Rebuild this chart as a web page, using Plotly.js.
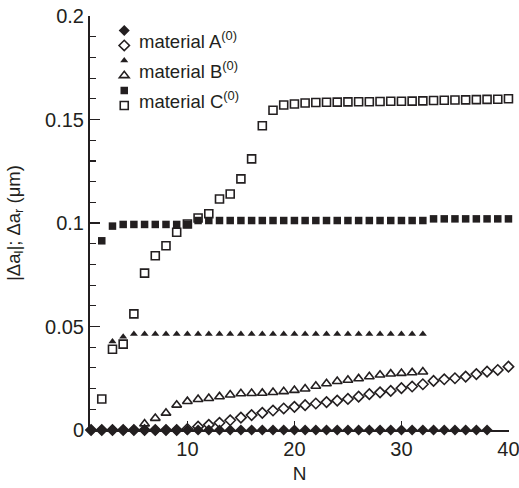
<!DOCTYPE html>
<html>
<head>
<meta charset="utf-8">
<script src="https://cdn.plot.ly/plotly-3.0.1.min.js"></script>
<style>html,body{margin:0;padding:0;background:#fff;}#chart{width:519px;height:488px;}</style>
</head>
<body>
<div id="chart"></div>
<script>
// ---- data ----
const nA_filled = [1,2,3,4,5,6,7,8,9,10,11,12,13,14,15,16,17,18,19,20,21,22,23,24,25,26,27,28,29,30,31,32,33,34,35,36,37,38];
const vA_filled = [0,0,0,0,0,0,0,0,0,0,0,0,0,0,0,0,0,0,0,0,0,0,0,0,0,0,0,0,0,0,0,0,0,0,0,0,0,0];

const nA_open = [1,2,3,4,5,6,7,8,9,10,11,12,13,14,15,16,17,18,19,20,21,22,23,24,25,26,27,28,29,30,31,32,33,34,35,36,37,38,39,40];
const vA_open = [0,0,0,0,0,0,0,0,0,0.0005,0.0016,0.0025,0.0035,0.0047,0.006,0.0072,0.0083,0.0094,0.0104,0.0112,0.012,0.0128,0.0135,0.0142,0.015,0.0161,0.0173,0.0182,0.0189,0.0202,0.021,0.0221,0.0237,0.0245,0.025,0.0258,0.027,0.0282,0.029,0.0306];

const nB_filled = [3,4,5,6,7,8,9,10,11,12,13,14,15,16,17,18,19,20,21,22,23,24,25,26,27,28,29,30,31,32];
const vB_filled = [0.0427,0.045,0.0464,0.0464,0.0464,0.0464,0.0464,0.0464,0.0464,0.0464,0.0464,0.0464,0.0464,0.0464,0.0464,0.0464,0.0464,0.0464,0.0464,0.0464,0.0464,0.0464,0.0464,0.0464,0.0464,0.0464,0.0464,0.0464,0.0464,0.0464];

const nB_open = [6,7,8,9,10,11,12,13,14,15,16,17,18,19,20,21,22,23,24,25,26,27,28,29,30,31,32];
const vB_open = [0.003,0.0057,0.0082,0.0121,0.0138,0.0148,0.0153,0.0161,0.017,0.0176,0.0177,0.0178,0.0182,0.0186,0.0192,0.0199,0.0212,0.0224,0.0235,0.0241,0.0248,0.0258,0.0266,0.0271,0.0274,0.0277,0.0281];

const nC_filled = [2,3,4,5,6,7,8,9,10,11,12,13,14,15,16,17,18,19,20,21,22,23,24,25,26,27,28,29,30,31,32,33,34,35,36,37,38,39,40];
const vC_filled = [0.0914,0.0985,0.0993,0.0993,0.0993,0.0993,0.0993,0.0993,0.0993,0.1012,0.1012,0.1012,0.1012,0.1012,0.1012,0.1012,0.1012,0.1012,0.1012,0.1012,0.1012,0.1012,0.1012,0.1012,0.1012,0.1012,0.1012,0.1012,0.1012,0.1012,0.1012,0.102,0.102,0.102,0.102,0.102,0.102,0.102,0.102];

const nC_open = [2,3,4,5,6,7,8,9,10,11,12,13,14,15,16,17,18,19,20,21,22,23,24,25,26,27,28,29,30,31,32,33,34,35,36,37,38,39,40];
const vC_open = [0.015,0.039,0.0415,0.0561,0.0758,0.0842,0.089,0.0955,0.0995,0.1024,0.1045,0.1116,0.114,0.1213,0.131,0.147,0.1545,0.157,0.1575,0.158,0.1582,0.1583,0.1584,0.1585,0.1586,0.1586,0.1587,0.1588,0.1588,0.1589,0.159,0.1592,0.1593,0.1594,0.1595,0.1596,0.1597,0.1598,0.16];

const legendLabels = ["material A<sup>(0)</sup>", "material B<sup>(0)</sup>", "material C<sup>(0)</sup>"];
const xTicks = [10, 20, 30, 40];

// ---- styling ----
const ink = '#231f20';
const fontFam = '"Liberation Sans", Arial, Helvetica, sans-serif';

function tr(x, y, symbol, size, open, legendRef, group) {
  return {
    x: x, y: y, type: 'scatter', mode: 'markers', name: ' ', cliponaxis: false,
    legend: legendRef, legendgroup: group,
    marker: open
      ? {symbol: symbol, size: size, color: ink, line: {color: ink, width: 1.6}}
      : {symbol: symbol, size: size, color: ink, line: {width: 0}},
    hoverinfo: 'x+y'
  };
}

const data = [
  tr(nA_filled, vA_filled, 'diamond', 8.5, false, 'legend', 'fA'),
  tr(nA_open, vA_open, 'diamond-open', 8, true, 'legend2', 'oA'),
  tr(nB_filled, vB_filled, 'triangle-up', 7, false, 'legend', 'fB'),
  tr(nB_open, vB_open, 'triangle-up-open', 8.5, true, 'legend2', 'oB'),
  tr(nC_filled, vC_filled, 'square', 7.5, false, 'legend', 'fC'),
  tr(nC_open, vC_open, 'square-open', 8, true, 'legend2', 'oC')
];

const legendY = [0.942, 0.870, 0.797];
const annotations = legendLabels.map((t, i) => ({
  xref: 'paper', yref: 'paper', x: 0.112, y: legendY[i],
  xanchor: 'left', yanchor: 'middle', showarrow: false, text: t,
  font: {size: 18.5, color: ink, family: fontFam}
}));

const legendBase = {xanchor: 'left', yanchor: 'top', bgcolor: 'rgba(0,0,0,0)',
                    font: {size: 10}, traceorder: 'grouped', tracegroupgap: 11, itemwidth: 30};

const layout = {
  width: 519, height: 488,
  margin: {l: 90, r: 10, t: 16, b: 58},
  paper_bgcolor: '#fff', plot_bgcolor: '#fff',
  font: {family: fontFam, color: ink, size: 20},
  showlegend: true,
  legend: Object.assign({x: 0.034, y: 1.0}, legendBase),
  legend2: Object.assign({x: 0.034, y: 0.9638}, legendBase),
  xaxis: {
    range: [0.9, 40.05], tickmode: 'array', tickvals: xTicks,
    ticks: 'inside', ticklen: 9, tickwidth: 1.5, tickcolor: ink,
    ticklabeloverflow: 'allow',
    showline: true, linewidth: 2, linecolor: ink, showgrid: false, zeroline: false,
    tickfont: {size: 20, color: ink},
    title: {text: 'N', font: {size: 19, color: ink}, standoff: 8}
  },
  yaxis: {
    range: [0, 0.2], dtick: 0.05, tick0: 0,
    ticks: 'inside', ticklen: 10, tickwidth: 1.5, tickcolor: ink,
    minor: {dtick: 0.01, ticks: 'inside', ticklen: 6, tickwidth: 1.2, tickcolor: ink, showgrid: false},
    showline: true, linewidth: 2, linecolor: ink, showgrid: false, zeroline: false,
    tickfont: {size: 20, color: ink},
    title: {text: '|Δa<sub>l</sub>|; Δa<sub>r</sub> (μm)', font: {size: 18.5, color: ink}, standoff: 20}
  },
  annotations: annotations
};

Plotly.newPlot('chart', data, layout, {displayModeBar: false, staticPlot: true});
</script>
</body>
</html>
